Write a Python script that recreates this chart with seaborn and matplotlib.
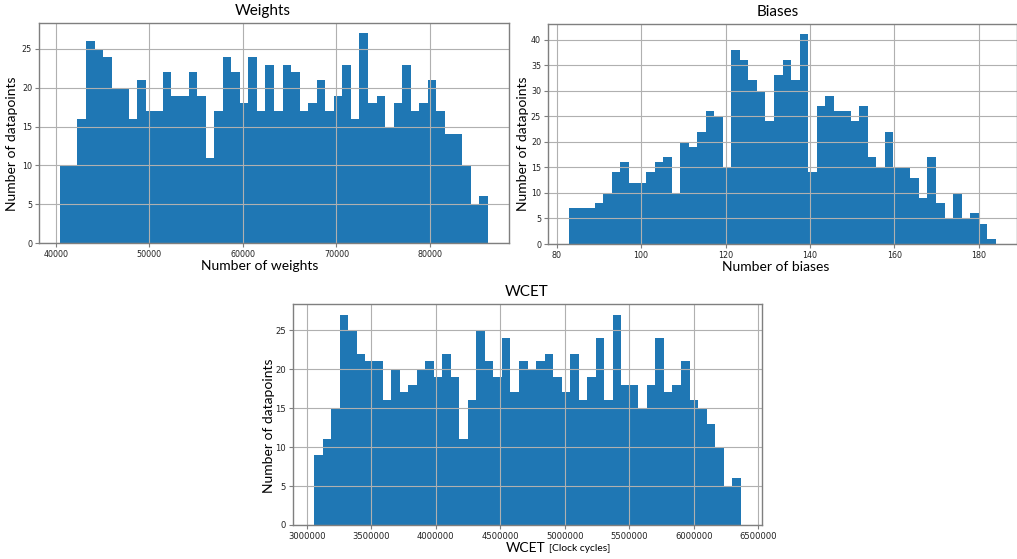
import numpy as np
import pandas as pd
import matplotlib
matplotlib.use("Agg")
import matplotlib.pyplot as plt
import seaborn as sns

# ---- data (counts per bin; 50 equal bins each) ----
weights_range = (40500, 86150)
weights_counts = [10, 10, 16, 26, 25, 24, 20, 20, 16, 21,
                  17, 17, 22, 19, 19, 22, 19, 11, 17, 24,
                  22, 18, 24, 17, 23, 17, 23, 22, 17, 18,
                  21, 17, 19, 23, 16, 27, 18, 19, 15, 18,
                  23, 17, 18, 21, 17, 14, 14, 10, 5, 6]

biases_range = (83, 184)
biases_counts = [7, 7, 7, 8, 10, 14, 16, 12, 12, 14,
                 16, 17, 10, 20, 19, 22, 26, 25, 15, 38,
                 36, 32, 30, 24, 33, 36, 32, 41, 14, 27,
                 29, 26, 26, 24, 27, 17, 15, 22, 15, 15,
                 13, 9, 17, 8, 5, 10, 5, 6, 4, 1]

wcet_range = (3059000, 6364000)
wcet_counts = [9, 11, 15, 27, 25, 22, 21, 21, 16, 20,
               17, 18, 20, 21, 19, 22, 19, 11, 16, 25,
               21, 19, 24, 17, 21, 20, 21, 22, 19, 17,
               22, 16, 19, 24, 16, 27, 18, 18, 15, 18,
               24, 17, 18, 21, 16, 15, 13, 10, 5, 6]

titles = ["Weights", "Biases", "WCET"]
xlabels = ["Number of weights", "Number of biases", "WCET"]
ylabel = "Number of datapoints"
unit_note = "[Clock cycles]"

TXT = ["Lato", "DejaVu Sans"]
BAR = "#1f77b4"

fig = plt.figure(figsize=(10.17, 5.59), dpi=100)
W, H = 1017, 559

def px_axes(l, t, r, b):
    return fig.add_axes([l / W, 1 - b / H, (r - l) / W, (b - t) / H])

axes = [px_axes(39, 23, 509, 243), px_axes(548, 24, 1017, 244), px_axes(293, 304, 762, 525)]
specs = [(weights_range, weights_counts), (biases_range, biases_counts), (wcet_range, wcet_counts)]
tick_sizes = [5.8, 5.8, 6.1]

for ax, (rng, counts), ts in zip(axes, specs, tick_sizes):
    nb = len(counts)
    step = (rng[1] - rng[0]) / nb
    centers = rng[0] + step * (np.arange(nb) + 0.5)
    df = pd.DataFrame({"x": centers, "n": counts})
    sns.histplot(data=df, x="x", weights="n", bins=nb, binrange=rng, ax=ax,
                 color=BAR, alpha=1.0, linewidth=0, edgecolor="none")
    ax.grid(True, color="#b0b0b0", linewidth=0.8)
    ax.set_axisbelow("line")
    ax.margins(x=0.05, y=0.05)
    ax.set_ylim(0, max(counts) * 1.05)
    for s in ax.spines.values():
        s.set_color("#7f7f7f")
        s.set_linewidth(1.0)
    ax.tick_params(labelsize=ts, length=3, width=0.8, color="#7f7f7f",
                   labelcolor="#222222", pad=2)
    ax.ticklabel_format(axis="x", style="plain", useOffset=False)
    ax.set_ylabel("")
    ax.set_xlabel("")

# titles
title_x = [0.477, 0.49, 0.499]
for ax, t, tx in zip(axes, titles, title_x):
    ax.set_title(t, fontsize=11, family=TXT, x=tx, pad=6)

# y labels
ylab_x = [-0.045, -0.041, -0.038]
ylab_y = [0.45, 0.455, 0.45]
for ax, lx, ly in zip(axes, ylab_x, ylab_y):
    ax.set_ylabel(ylabel, fontsize=10, family=TXT)
    ax.yaxis.set_label_coords(lx, ly)

# x labels
xlab_x = [0.469, 0.486, 0.497]
for ax, lab, lx in zip(axes, xlabels, xlab_x):
    ax.set_xlabel(lab, fontsize=10, family=TXT)
    ax.xaxis.set_label_coords(lx, -0.077)

ax3 = axes[2]
ax3.annotate(unit_note, xy=(1, 0), xycoords=ax3.xaxis.label,
             xytext=(2.5, 0.8), textcoords="offset points",
             ha="left", va="bottom", fontsize=7.4, family=TXT)

fig.savefig("out.png", dpi=100)
